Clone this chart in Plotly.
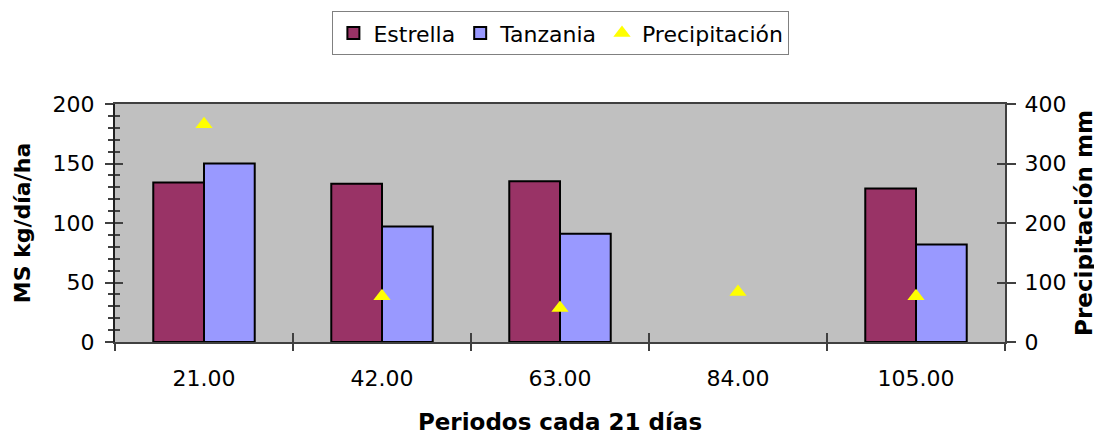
import plotly.graph_objects as go

categories = ["21.00", "42.00", "63.00", "84.00", "105.00"]
estrella = [134, 133, 135, None, 129]
tanzania = [150, 97, 91, None, 82]
precipitacion = [366, 77, 57, 84, 77]

FONT = "DejaVu Sans, sans-serif"
AX = "#404040"

fig = go.Figure()
fig.add_trace(go.Bar(name="Estrella", x=categories, y=estrella,
                     marker=dict(color="#993366", line=dict(color="black", width=2))))
fig.add_trace(go.Bar(name="Tanzania", x=categories, y=tanzania,
                     marker=dict(color="#9999FF", line=dict(color="black", width=2))))
fig.add_trace(go.Scatter(name="Precipitación", x=categories, y=precipitacion, yaxis="y2",
                         mode="markers",
                         marker=dict(symbol="triangle-up", size=15, color="#FFFF00",
                                     line=dict(width=0))))
# invisible helper traces for inner tick marks
fig.add_trace(go.Scatter(x=categories, y=[None]*5, xaxis="x2", yaxis="y3",
                         showlegend=False, hoverinfo="skip", mode="markers",
                         marker=dict(opacity=0)))
fig.add_trace(go.Scatter(x=categories, y=[None]*5, xaxis="x2", yaxis="y4",
                         showlegend=False, hoverinfo="skip", mode="markers",
                         marker=dict(opacity=0)))

fig.update_layout(
    width=1094, height=427,
    margin=dict(l=107, r=97, t=96, b=93, autoexpand=False),
    paper_bgcolor="white", plot_bgcolor="#C0C0C0",
    font=dict(family=FONT, size=22, color="black"),
    barmode="group", bargap=0.43, bargroupgap=0,
    showlegend=True,
    legend=dict(orientation="h", x=0.501, xanchor="center", y=1.39, yanchor="top",
                bordercolor="#808080", borderwidth=1, font=dict(size=22),
                itemwidth=30, tracegroupgap=0),
    xaxis=dict(type="category", showline=True, linecolor=AX, linewidth=2,
               mirror=True, ticks="outside", tickson="boundaries", ticklen=7,
               tickcolor=AX, tickwidth=2, showgrid=False, automargin=False,
               tickfont=dict(size=22), ticklabelstandoff=16,
               title=dict(text="<b>Periodos cada 21 días</b>", font=dict(size=23), standoff=26)),
    xaxis2=dict(type="category", overlaying="x", matches="x", ticks="inside",
                tickson="boundaries", ticklen=9, tickcolor=AX, tickwidth=2,
                showticklabels=False, showgrid=False, showline=False, anchor="y3",
                automargin=False),
    yaxis=dict(range=[0, 200], dtick=50, showline=True, linecolor="#202020", linewidth=2,
               ticks="outside", ticklen=8, tickcolor=AX, tickwidth=2, showgrid=False,
               zeroline=False, automargin=False, tickfont=dict(size=22),
               ticklabelstandoff=6,
               minor=dict(dtick=10, ticks="outside", ticklen=5, tickcolor=AX, tickwidth=2),
               title=dict(text="<b>MS kg/día/ha</b>", font=dict(size=22), standoff=16)),
    yaxis3=dict(range=[0, 200], dtick=50, overlaying="y", ticks="inside", ticklen=8,
                tickcolor=AX, tickwidth=2, showticklabels=False, showgrid=False,
                zeroline=False, showline=False, automargin=False,
                minor=dict(dtick=10, ticks="inside", ticklen=5, tickcolor=AX, tickwidth=2)),
    yaxis2=dict(range=[0, 400], dtick=100, overlaying="y", side="right", showline=True,
                linecolor=AX, linewidth=2, ticks="outside", ticklen=9, tickcolor=AX,
                tickwidth=2, showgrid=False, zeroline=False, automargin=False,
                tickfont=dict(size=22), ticklabelstandoff=4,
                title=dict(text="<b>Precipitación mm</b>", font=dict(size=23), standoff=10)),
    yaxis4=dict(range=[0, 400], dtick=100, overlaying="y", side="right", ticks="inside",
                ticklen=8, tickcolor=AX, tickwidth=2, showticklabels=False,
                showgrid=False, zeroline=False, showline=False, automargin=False),
)

fig.write_html("out.html")
